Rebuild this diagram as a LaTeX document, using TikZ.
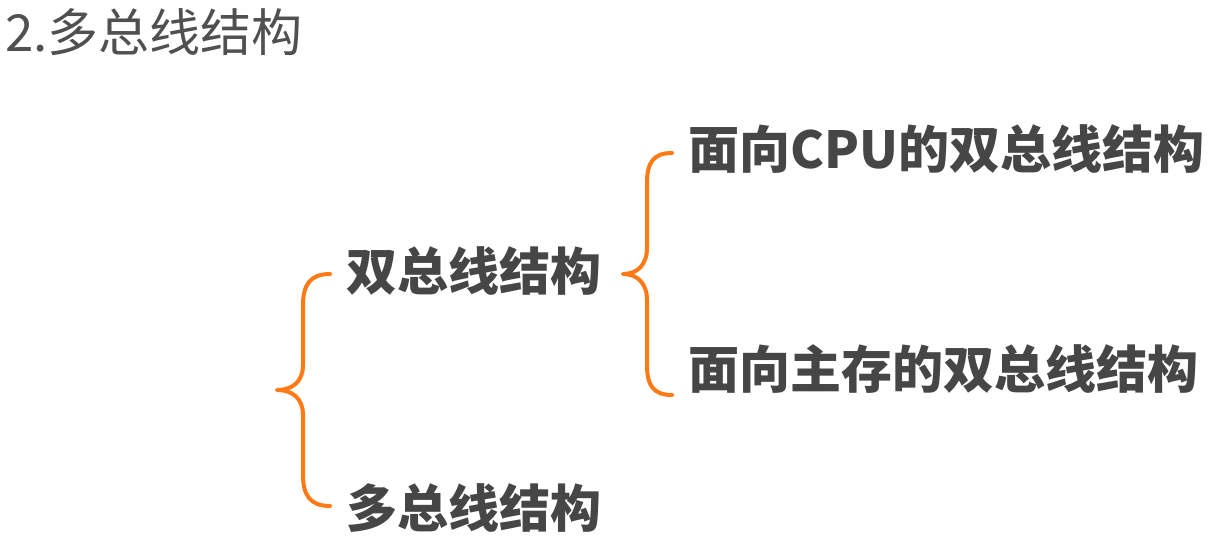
\documentclass[tikz,border=0pt]{standalone}
\usepackage{fontspec}
\newfontfamily\cjk{Noto Sans CJK SC}
\definecolor{txt}{HTML}{464646}
\definecolor{ttl}{HTML}{505050}
\definecolor{brc}{HTML}{FF7A14}
\begin{document}
\begin{tikzpicture}[x=1pt,y=-1pt,
  item/.style={anchor=base west,inner sep=0pt,text=txt,font=\cjk\bfseries\fontsize{51}{60}\selectfont},
  title/.style={anchor=base west,inner sep=0pt,text=ttl,font=\cjk\fontsize{51}{60}\selectfont},
  brace/.style={draw=brc,line width=4pt,line cap=round,line join=round}]
\useasboundingbox (0,0) rectangle (1225,554);
\fill[white] (0,0) rectangle (1225,554);
\node[title] (t) at (5,51) {2.多总线结构};
\node[item] (a) at (346,290) {双总线结构};
\node[item] (b) at (346,527) {多总线结构};
\node[item] (c) at (688,168) {面向CPU的双总线结构};
\node[item] (d) at (688,388) {面向主存的双总线结构};
\coordinate (b1top) at (330,274);
\coordinate (b1tip) at (277,390);
\coordinate (b1bot) at (330,506);
\coordinate (b2top) at (672,153);
\coordinate (b2tip) at (623,274);
\coordinate (b2bot) at (672,395);
\draw[brace] (b1top) .. controls (310,274) and (303,285) .. (303,305) -- (303,365)
  .. controls (303,382) and (292,390) .. (b1tip)
  .. controls (292,390) and (303,398) .. (303,415) -- (303,475)
  .. controls (303,495) and (310,506) .. (b1bot);
\draw[brace] (b2top) .. controls (653,153) and (647,163) .. (647,183) -- (647,248)
  .. controls (647,265) and (637,274) .. (b2tip)
  .. controls (637,274) and (647,283) .. (647,300) -- (647,365)
  .. controls (647,385) and (653,395) .. (b2bot);
\end{tikzpicture}
\end{document}
